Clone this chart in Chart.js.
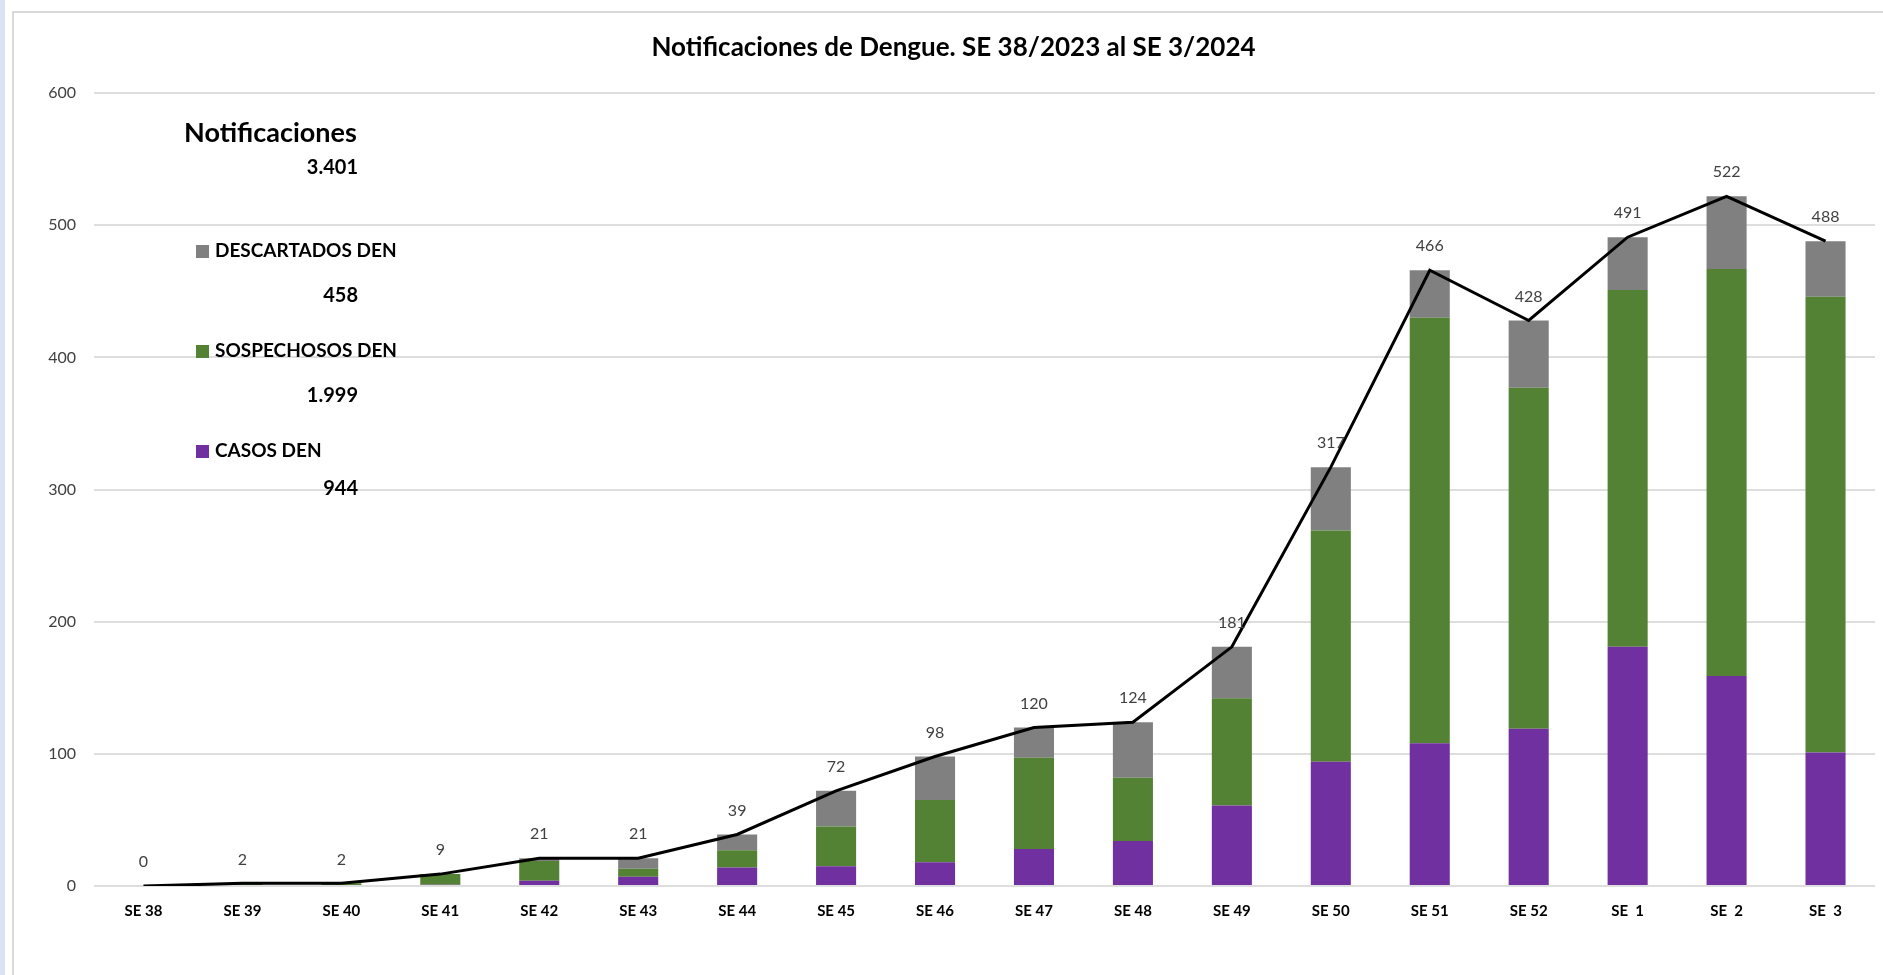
<!DOCTYPE html>
<html lang="es">
<head>
<meta charset="UTF-8">
<title>Notificaciones de Dengue</title>
<script src="https://cdn.jsdelivr.net/npm/chart.js@4.4.1/dist/chart.umd.min.js"></script>
<style>
    html, body { margin: 0; padding: 0; width: 1883px; height: 975px; overflow: hidden; background: #dae3f3; }
    .marco { position: absolute; left: 5px; top: 0; width: 1878px; height: 975px; background: #fff; }
    .borde { position: absolute; left: 12px; top: 11px; width: 1871px; height: 964px; border-left: 2px solid #d9d9d9; border-top: 2px solid #d9d9d9; box-sizing: border-box; }
    canvas { position: absolute; left: 14px; top: 13px; }
</style>
</head>
<body>
<div class="marco"></div>
<div class="borde"></div>
<canvas id="grafico" width="1869" height="962"></canvas>

<script>
    // semanas epidemiológicas
    const semanas = ["SE 38", "SE 39", "SE 40", "SE 41", "SE 42", "SE 43", "SE 44", "SE 45", "SE 46",
                     "SE 47", "SE 48", "SE 49", "SE 50", "SE 51", "SE 52", "SE  1", "SE  2", "SE  3"];

    const casos = [0, 0, 0, 1, 4, 7, 14, 15, 18, 28, 34, 61, 94, 108, 119, 181, 159, 101];
    const sospechosos = [0, 2, 2, 8, 15, 6, 13, 30, 47, 69, 48, 81, 175, 322, 258, 270, 308, 345];
    const descartados = [0, 0, 0, 0, 2, 8, 12, 27, 33, 23, 42, 39, 48, 36, 51, 40, 55, 42];
    const totales = [0, 2, 2, 9, 21, 21, 39, 72, 98, 120, 124, 181, 317, 466, 428, 491, 522, 488];

    // cuadro de la izquierda
    const resumenTitulo = "Notificaciones";
    const resumenTotal = "3.401";
    const resumenSeries = ["DESCARTADOS DEN", "SOSPECHOSOS DEN", "CASOS DEN"];
    const resumenValores = ["458", "1.999", "944"];

    const yTicks = [0, 100, 200, 300, 400, 500, 600];

    const colores = { casos: "#7030a0", sosp: "#548235", desc: "#808080" };
    const FUENTE = "Lato, 'Open Sans', sans-serif";

    // etiquetas sobre la línea de totales
    const etiquetasTotales = {
        id: "etiquetasTotales",
        afterDatasetsDraw(chart) {
            const meta = chart.getDatasetMeta(3);
            const ctx = chart.ctx;
            ctx.save();
            ctx.font = "16px " + FUENTE;
            ctx.fillStyle = "#404040";
            ctx.textAlign = "center";
            ctx.textBaseline = "middle";
            meta.data.forEach(function (p, i) {
                ctx.fillText(String(totales[i]), p.x, p.y - 24);
            });
            ctx.restore();
        }
    };

    // leyenda con totales
    const cuadroResumen = {
        id: "cuadroResumen",
        afterDraw(chart) {
            const ctx = chart.ctx;
            const cols = [colores.desc, colores.sosp, colores.casos];
            ctx.save();
            ctx.fillStyle = "#000";
            ctx.textBaseline = "middle";
            ctx.font = "bold 27px " + FUENTE;
            ctx.textAlign = "left";
            ctx.fillText(resumenTitulo, 170, 120);
            ctx.font = "bold 20px " + FUENTE;
            ctx.textAlign = "right";
            ctx.fillText(resumenTotal, 344, 155);
            for (let i = 0; i < resumenSeries.length; i++) {
                const y = 238 + i * 100;
                ctx.fillStyle = cols[i];
                ctx.fillRect(182, y - 6, 13, 13);
                ctx.fillStyle = "#000";
                ctx.font = "bold 19px " + FUENTE;
                ctx.textAlign = "left";
                ctx.fillText(resumenSeries[i], 201, y);
                ctx.font = "bold 20px " + FUENTE;
                ctx.textAlign = "right";
                ctx.fillText(resumenValores[i], 344, y + 45 - (i === 2 ? 7 : 0));
            }
            ctx.restore();
        }
    };

    new Chart(document.getElementById("grafico"), {
        data: {
            labels: semanas,
            datasets: [
                { type: "bar", label: "CASOS DEN", data: casos, backgroundColor: colores.casos, stack: "s", order: 1 },
                { type: "bar", label: "SOSPECHOSOS DEN", data: sospechosos, backgroundColor: colores.sosp, stack: "s", order: 1 },
                { type: "bar", label: "DESCARTADOS DEN", data: descartados, backgroundColor: colores.desc, stack: "s", order: 1 },
                { type: "line", label: "Total", data: totales, borderColor: "#000", borderWidth: 3,
                  pointRadius: 0, tension: 0, stack: "t", order: 0 }
            ]
        },
        options: {
            responsive: false,
            animation: false,
            layout: { padding: { left: 18, right: 8, top: 0, bottom: 0 } },
            datasets: { bar: { categoryPercentage: 1, barPercentage: 0.405 } },
            plugins: {
                legend: { display: false },
                tooltip: { enabled: false },
                title: {
                    display: true,
                    text: "Notificaciones de Dengue. SE 38/2023 al SE 3/2024",
                    color: "#000",
                    font: { family: FUENTE, size: 26, weight: "bold" },
                    padding: { top: 19, bottom: 30 }
                }
            },
            scales: {
                x: {
                    stacked: true,
                    grid: { display: false },
                    border: { display: false },
                    ticks: { color: "#000", font: { family: FUENTE, size: 15, weight: "bold" }, padding: 8, maxRotation: 0 },
                    afterFit(s) { s.height = 89; }
                },
                y: {
                    stacked: true,
                    min: 0,
                    max: 600,
                    afterBuildTicks(s) { s.ticks = yTicks.map(v => ({ value: v })); },
                    grid: { color: "#dedede", lineWidth: 2, drawTicks: false },
                    border: { display: false },
                    ticks: { color: "#404040", font: { family: FUENTE, size: 16 }, padding: 18 },
                    afterFit(s) { s.width = 62; }
                }
            }
        },
        plugins: [etiquetasTotales, cuadroResumen]
    });
</script>
</body>
</html>
